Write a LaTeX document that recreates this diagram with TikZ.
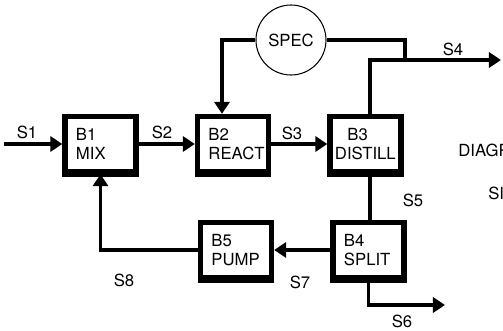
\documentclass[tikz,border=0pt]{standalone}
\usepackage{fontspec}
\setmainfont{TeX Gyre Heros}
\usetikzlibrary{arrows.meta,calc}
\tikzset{
    blk/.style={draw, line width=3pt, minimum width=1.42cm, minimum height=1.1cm,
        text width=0.98cm, inner xsep=0.22cm, align=left,
        append after command={
            (\tikzlastnode.south west) edge[line width=3pt]
            (\tikzlastnode.south east)}},
    flow/.style={line width=2.2pt, -{Triangle[width=0.3cm,length=0.24cm]}},
    pipe/.style={line width=2.2pt},
    lbl/.style={inner sep=0pt}
}
\begin{document}
\begin{tikzpicture}[font=\fontsize{9.5}{11}\selectfont]
    \useasboundingbox (0,0) rectangle (10.06,6.60);

    % bloques
    \node[blk] (b1) at (2.01,3.72) {B1\\MIX};
    \node[blk] (b2) at (4.66,3.72) {B2\\REACT};
    \node[blk, text width=1.22cm, inner xsep=0.1cm] (b3) at (7.31,3.72) {\hspace*{0.25cm}B3\\DISTILL};
    \node[blk] (b4) at (7.37,1.60) {B4\\SPLIT};
    \node[blk] (b5) at (4.72,1.60) {B5\\PUMP};

    % especificacion de diseno
    \node[draw, circle, line width=0.6pt, minimum size=1.4cm] (spec) at (5.82,5.80) {SPEC};

    % puntos libres
    \coordinate (s1in)  at (0.08,3.72);
    \coordinate (junta) at (8.10,5.40);
    \coordinate (s4out) at (10.02,5.40);
    \coordinate (s6out) at (8.90,0.50);

    % corrientes
    \draw[flow] (s1in) -- (b1.west);
    \draw[flow] (b1.east) -- (b2.west);
    \draw[flow] (b2.east) -- (b3.west);
    \draw[flow] (spec.west) -| ([xshift=-0.22cm]b2.north);
    \draw[pipe] (spec.east) -| (junta);
    \draw[flow] ([xshift=0.09cm]b3.north) |- (s4out);
    \draw[pipe] ([xshift=0.09cm]b3.south) -- ([xshift=0.03cm]b4.north);
    \draw[flow] (b4.west) -- (b5.east);
    \draw[flow] (b5.west) -| (b1.south);
    \draw[flow] (b4.south) |- (s6out);

    % etiquetas
    \node[lbl] (l1) at (0.54,3.96) {S1};
    \node[lbl] (l2) at (3.24,3.96) {S2};
    \node[lbl] (l3) at (5.84,3.94) {S3};
    \node[lbl] (l4) at (9.06,5.62) {S4};
    \node[lbl] (l5) at (8.26,2.60) {S5};
    \node[lbl] (l6) at (8.04,0.18) {S6};
    \node[lbl] (l7) at (6.00,0.96) {S7};
    \node[lbl] (l8) at (2.48,1.00) {S8};

    % texto cortado al borde
    \node[lbl, anchor=west] (diag) at (9.16,3.60) {DIAGR};
    \node[lbl, anchor=west] (sub) at (9.76,2.74) {SI};
\end{tikzpicture}
\end{document}
